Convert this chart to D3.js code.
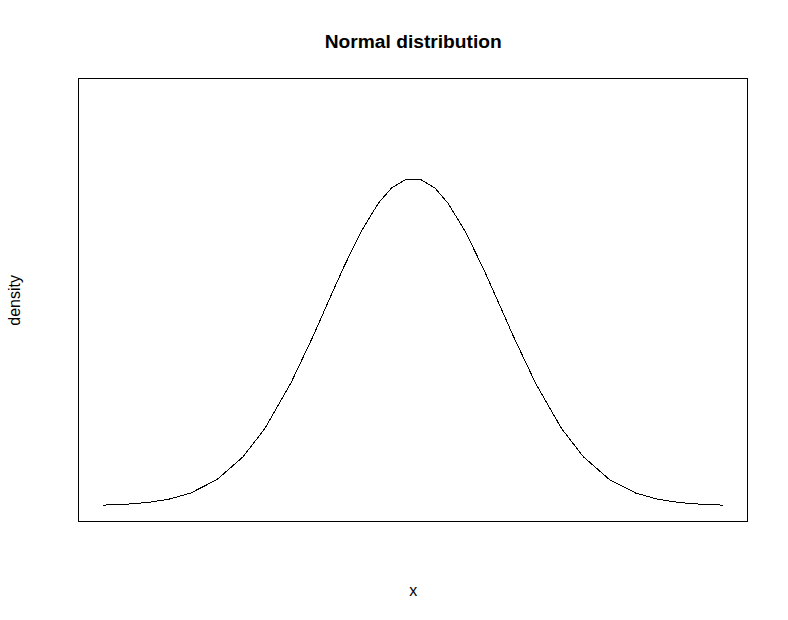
<!DOCTYPE html>
<html>
<head>
<meta charset="utf-8">
<script src="https://cdn.jsdelivr.net/npm/d3@7/dist/d3.min.js"></script>
<style>
  body { margin: 0; background: #fff; }
  svg text { font-family: Arial, "Liberation Sans", Helvetica, sans-serif; fill: #000; }
</style>
</head>
<body>
<svg id="chart"></svg>
<script>
// x values (in sd units) and the density
const xValues = [-3.55, -3.3, -3.05, -2.8, -2.55, -2.25, -1.95, -1.7, -1.4, -1.15, -1.0, -0.8, -0.6, -0.4, -0.25, -0.08,
                 0.08, 0.25, 0.4, 0.6, 0.8, 1.0, 1.15, 1.4, 1.7, 1.95, 2.25, 2.55, 2.8, 3.05, 3.3, 3.55];
const densityValues = [0.0007, 0.0017, 0.0038, 0.0079, 0.0154, 0.0317, 0.0596, 0.0940, 0.1497, 0.2059, 0.2420, 0.2897, 0.3332, 0.3683, 0.3867, 0.3977,
                       0.3977, 0.3867, 0.3683, 0.3332, 0.2897, 0.2420, 0.2059, 0.1497, 0.0940, 0.0596, 0.0317, 0.0154, 0.0079, 0.0038, 0.0017, 0.0007];
const yLimits = [0, 0.5];

const titleText = "Normal distribution";
const xLabel = "x";
const yLabel = "density";

const width = 788, height = 620;
// plot region (R default margins at 96 dpi)
const plot = { left: 78.7, right: 747.7, top: 78.7, bottom: 522.1 };

const svg = d3.select("#chart").attr("width", width).attr("height", height);

// R style 4% axis extension
function extend(lo, hi) {
  const pad = (hi - lo) * 0.04;
  return [lo - pad, hi + pad];
}

const x = d3.scaleLinear()
  .domain(extend(d3.min(xValues), d3.max(xValues)))
  .range([plot.left, plot.right]);

const y = d3.scaleLinear()
  .domain(extend(yLimits[0], yLimits[1]))
  .range([plot.bottom, plot.top]);

const points = xValues.map((v, i) => [v, densityValues[i]]);

// the reference line is drawn without anti-aliasing
svg.append("path")
  .datum(points)
  .attr("fill", "none")
  .attr("stroke", "#000")
  .attr("stroke-width", 1)
  .attr("shape-rendering", "crispEdges")
  .attr("d", d3.line().x(d => x(d[0])).y(d => y(d[1])));

// box round the plot
svg.append("rect")
  .attr("x", Math.round(plot.left) - 0.5)
  .attr("y", Math.round(plot.top) - 0.5)
  .attr("width", Math.round(plot.right) - Math.round(plot.left))
  .attr("height", Math.round(plot.bottom) - Math.round(plot.top))
  .attr("fill", "none")
  .attr("stroke", "#000")
  .attr("stroke-width", 1)
  .attr("shape-rendering", "crispEdges");

const midX = (plot.left + plot.right) / 2;
const midY = (plot.top + plot.bottom) / 2;

svg.append("text")
  .attr("x", midX)
  .attr("y", 47.5)
  .attr("text-anchor", "middle")
  .attr("font-size", 19.2)
  .attr("font-weight", "bold")
  .text(titleText);

svg.append("text")
  .attr("x", midX)
  .attr("y", 596)
  .attr("text-anchor", "middle")
  .attr("font-size", 16)
  .text(xLabel);

svg.append("text")
  .attr("transform", `translate(20,${midY}) rotate(-90)`)
  .attr("text-anchor", "middle")
  .attr("font-size", 16)
  .text(yLabel);
</script>
</body>
</html>
